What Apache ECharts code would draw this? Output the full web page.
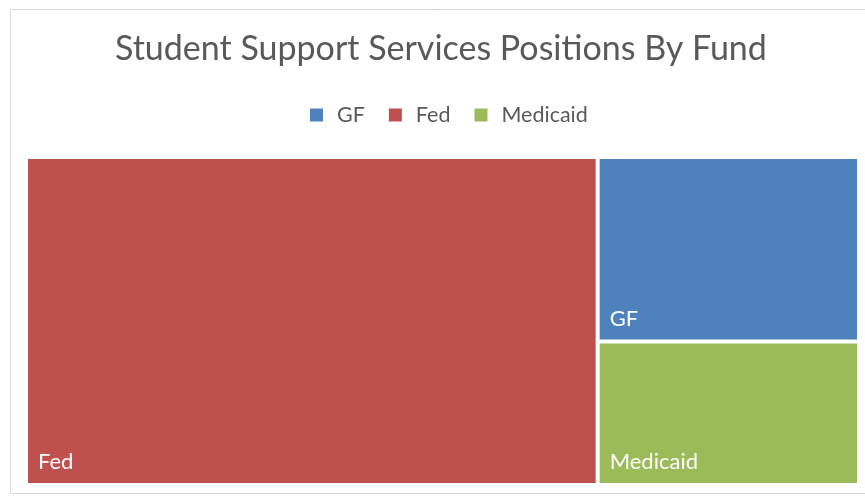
<!DOCTYPE html>
<html>
<head>
<meta charset="utf-8">
<title>Student Support Services Positions By Fund</title>
<script src="https://cdn.jsdelivr.net/npm/echarts@6/dist/echarts.min.js"></script>
<style>
  html, body { margin: 0; padding: 0; background: #fff; }
  #chart { width: 865px; height: 496px; }
</style>
</head>
<body>
<div id="chart"></div>
<script>
// fund names and position counts
var funds = ['GF', 'Fed', 'Medicaid']
var positions = [9, 35, 7]
var fundColors = ['#4F81BD', '#C0504D', '#9BBB59']

var font = 'Lato, "Open Sans", sans-serif'

var chart = echarts.init(document.getElementById('chart'))

var treeData = funds.map(function (name, i) {
    return {
        name: name,
        value: positions[i],
        itemStyle: { color: fundColors[i] }
    }
})

chart.setOption({
    animation: false,
    color: fundColors,
    title: {
        text: 'Student Support Services Positions By Fund',
        left: 110,
        top: 27,
        textStyle: {
            fontFamily: font,
            fontSize: 34,
            fontWeight: 'normal',
            color: '#595959'
        }
    },
    legend: {
        data: funds,
        top: 99,
        left: 305,
        icon: 'rect',
        itemWidth: 13,
        itemHeight: 13,
        itemGap: 24,
        selectedMode: false,
        textStyle: {
            fontFamily: font,
            fontSize: 21.5,
            color: '#595959',
            padding: [0, 0, 0, 9]
        }
    },
    graphic: [{
        type: 'rect',
        silent: true,
        shape: { x: 10.5, y: 9.5, width: 870, height: 484 },
        style: { fill: 'none', stroke: '#d9d9d9', lineWidth: 1 }
    }],
    series: [{
        // only used so the legend has its swatches
        type: 'pie',
        radius: [0, 0],
        silent: true,
        label: { show: false },
        labelLine: { show: false },
        data: funds.map(function (name, i) {
            return { name: name, value: positions[i] }
        })
    }, {
        type: 'treemap',
        left: 28,
        top: 159,
        right: 8,
        bottom: 13,
        squareRatio: 1,
        roam: false,
        nodeClick: false,
        breadcrumb: { show: false },
        itemStyle: {
            borderWidth: 0,
            gapWidth: 4
        },
        levels: [{
            itemStyle: { borderWidth: 0, gapWidth: 4 }
        }],
        label: {
            show: true,
            position: 'insideBottomLeft',
            distance: 5,
            fontFamily: font,
            fontSize: 22,
            color: '#fff'
        },
        data: treeData
    }]
})
</script>
</body>
</html>
